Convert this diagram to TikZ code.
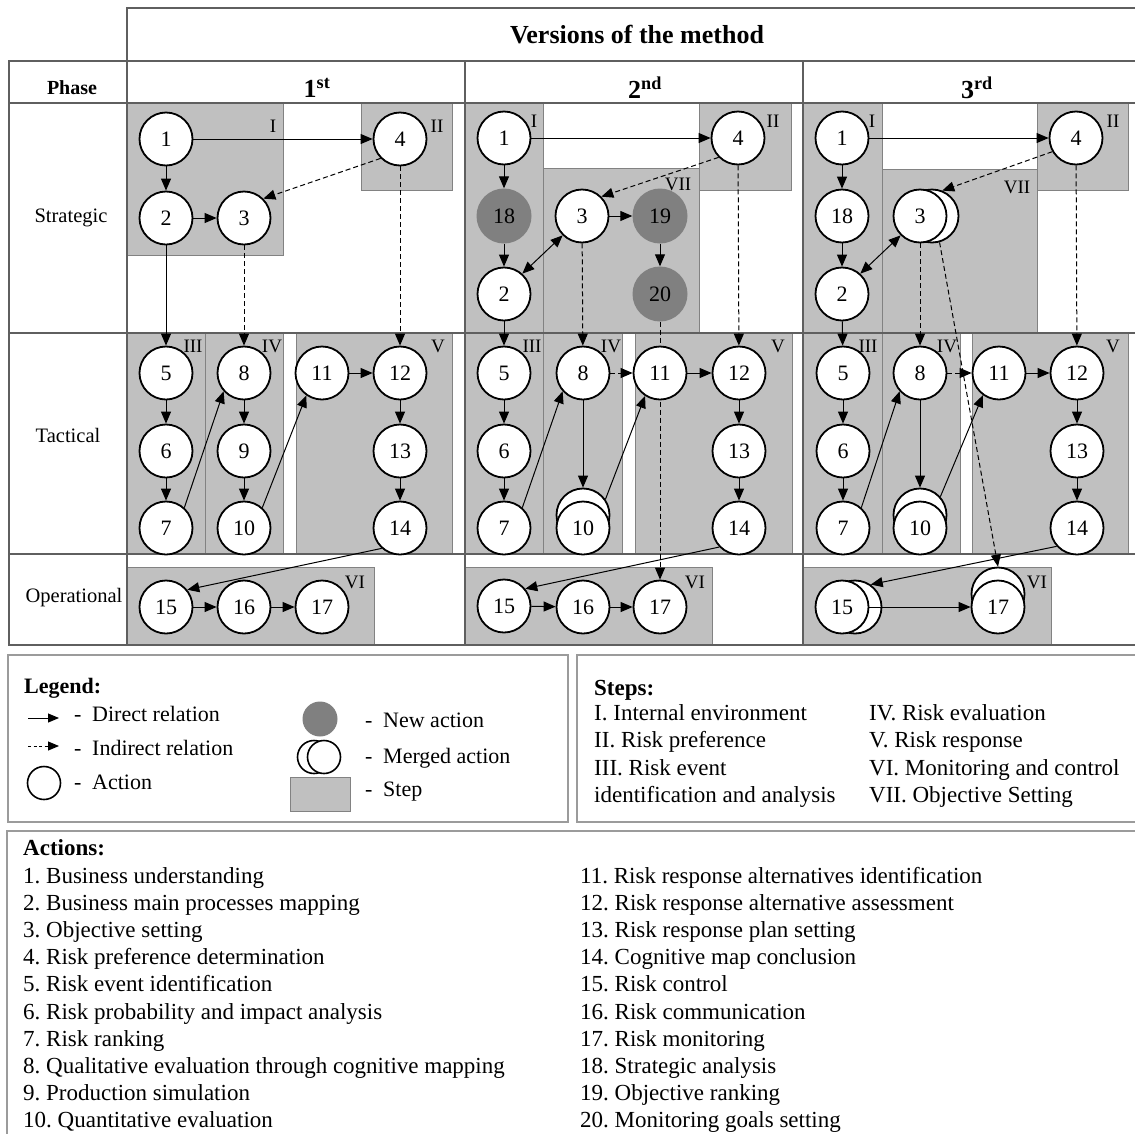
\documentclass[tikz,border=0pt]{standalone}
\usepackage{fontspec}
\setmainfont{Liberation Serif}
\usetikzlibrary{arrows.meta}
\definecolor{stepgray}{RGB}{192,192,192}
\definecolor{stepedge}{RGB}{130,130,130}
\definecolor{newgray}{RGB}{128,128,128}
\definecolor{gridgray}{RGB}{95,95,95}
\definecolor{boxgray}{RGB}{155,155,155}
\pgfdeclarelayer{bg}
\pgfdeclarelayer{edges}
\pgfsetlayers{bg,edges,main}
\newcommand{\numfont}{\fontsize{22}{24}\selectfont}
\newcommand{\txtfont}{\fontsize{23}{27}\selectfont}
\newcommand{\lgfont}{\fontsize{22}{26}\selectfont}
\frenchspacing
\begin{document}
\begin{tikzpicture}[x=1pt,y=-1pt,
  act/.style={circle,draw=black,line width=1.8pt,fill=white,minimum size=53pt,inner sep=0pt,font=\numfont},
  newact/.style={circle,fill=newgray,minimum size=55pt,inner sep=0pt,font=\numfont},
  stepbox/.style={fill=stepgray,draw=stepedge,line width=0.8pt},
  steplbl/.style={inner sep=0pt,font=\fontsize{19}{20}\selectfont},
  arr/.style={-{Triangle[length=12pt,width=10pt]},line width=1pt},
  darr/.style={arr,dash pattern=on 5pt off 3pt},
  dblarr/.style={{Triangle[length=12pt,width=10pt]}-{Triangle[length=12pt,width=10pt]},line width=1pt},
  gridline/.style={draw=gridgray,line width=1.4pt},
  hdr/.style={inner sep=0pt,font=\bfseries\fontsize{26}{28}\selectfont},
  rowlbl/.style={inner sep=0pt,font=\fontsize{20.5}{22}\selectfont},
  txt/.style={inner sep=0pt,anchor=base west,font=\txtfont},
  lgtxt/.style={inner sep=0pt,anchor=base west,font=\lgfont},
  panel/.style={draw=boxgray,line width=1.6pt},
  lgact/.style={circle,draw=black,line width=1.6pt,fill=white,minimum size=33pt,inner sep=0pt}
]
\useasboundingbox (0,0) rectangle (1135,1133);
\begin{pgfonlayer}{bg}
\fill[white] (0,0) rectangle (1135,1133);
% step boxes
\foreach \xa/\ya/\xb/\yb in {127/103/283/255, 361/103/452/190, 127/333/205/554, 205/333/283/554, 296/333/452/554, 127/567/374/645,
  465/103/543/333, 543/168/699/333, 699/103/791/190, 465/333/543/554, 543/333/622/554, 635/333/792/554, 465/567/712/645,
  803/103/882/333, 882/169/1037/333, 1037/103/1128/190, 803/333/882/554, 882/333/960/554, 972/333/1128/554, 803/567/1051/645}
  {\draw[stepbox] (\xa,\ya) rectangle (\xb,\yb);}
% table grid
\draw[gridline] (127,8) rectangle (1145,61);
\draw[gridline] (9,61) rectangle (1145,645);
\foreach \yy in {103,333,554} {\draw[gridline] (9,\yy) -- (1145,\yy);}
\foreach \xx in {127,465,803} {\draw[gridline] (\xx,61) -- (\xx,645);}
% panels
\draw[panel] (8,655) rectangle (568,822);
\draw[panel] (577,655) rectangle (1145,822);
\draw[panel] (7,831) rectangle (1145,1145);
\end{pgfonlayer}

% headers
\node[hdr] (hv) at (637,35) {Versions of the method};
\node[hdr,font=\bfseries\fontsize{20}{22}\selectfont] (hp) at (72,88) {Phase};
\node[hdr] (h1) at (317,88) {1\textsuperscript{st}};
\node[hdr] (h2) at (645,88) {2\textsuperscript{nd}};
\node[hdr] (h3) at (977,88) {3\textsuperscript{rd}};
\node[rowlbl] (rs) at (71,218) {Strategic};
\node[rowlbl] (rt) at (68,435) {Tactical};
\node[rowlbl] (ro) at (74,598) {Operational};

% step labels
\node[steplbl] (s1a) at (273,126) {I};
\node[steplbl] (s1b) at (437,126) {II};
\node[steplbl] (s1c) at (193,346) {III};
\node[steplbl] (s1d) at (272,346) {IV};
\node[steplbl] (s1e) at (438,346) {V};
\node[steplbl] (s1f) at (355,582) {VI};
\node[steplbl] (s2a) at (534,121) {I};
\node[steplbl] (s2b) at (773,121) {II};
\node[steplbl] (s2g) at (678,184) {VII};
\node[steplbl] (s2c) at (532,346) {III};
\node[steplbl] (s2d) at (611,346) {IV};
\node[steplbl] (s2e) at (778,346) {V};
\node[steplbl] (s2f) at (695,582) {VI};
\node[steplbl] (s3a) at (872,121) {I};
\node[steplbl] (s3b) at (1113,121) {II};
\node[steplbl] (s3g) at (1017,187) {VII};
\node[steplbl] (s3c) at (868,346) {III};
\node[steplbl] (s3d) at (947,346) {IV};
\node[steplbl] (s3e) at (1113,346) {V};
\node[steplbl] (s3f) at (1037,582) {VI};

% ---- version 1 nodes
\node[act] (a1) at (166,139) {1};
\node[act] (a2) at (166,218) {2};
\node[act] (a3) at (244,218) {3};
\node[act] (a4) at (400,139) {4};
\node[act] (a5) at (166,373) {5};
\node[act] (a6) at (166,451) {6};
\node[act] (a7) at (166,528) {7};
\node[act] (a8) at (244,373) {8};
\node[act] (a9) at (244,451) {9};
\node[act] (a10) at (244,528) {10};
\node[act] (a11) at (322,373) {11};
\node[act] (a12) at (400,373) {12};
\node[act] (a13) at (400,451) {13};
\node[act] (a14) at (400,528) {14};
\node[act] (a15) at (166,607) {15};
\node[act] (a16) at (244,607) {16};
\node[act] (a17) at (322,607) {17};

% ---- version 2 nodes
\node[act] (b1) at (504,138) {1};
\node[act] (b4) at (738,138) {4};
\node[newact] (b18) at (504,216) {18};
\node[act] (b3) at (582,216) {3};
\node[newact] (b19) at (660,216) {19};
\node[act] (b2) at (504,294) {2};
\node[newact] (b20) at (660,294) {20};
\node[act] (b5) at (504,373) {5};
\node[act] (b6) at (504,451) {6};
\node[act] (b7) at (504,528) {7};
\node[act] (b8) at (583,373) {8};
\node[act] (b10b) at (583,515) {};
\node[act] (b10) at (583,528) {10};
\node[act] (b11) at (660,373) {11};
\node[act] (b12) at (739,373) {12};
\node[act] (b13) at (739,451) {13};
\node[act] (b14) at (739,528) {14};
\node[act] (b15) at (504,606) {15};
\node[act] (b16) at (583,607) {16};
\node[act] (b17) at (660,607) {17};

% ---- version 3 nodes
\node[act] (c1) at (842,138) {1};
\node[act] (c4) at (1076,138) {4};
\node[act] (c18) at (842,216) {18};
\node[act] (c3b) at (932,216) {};
\node[act] (c3) at (920,216) {3};
\node[act] (c2) at (842,294) {2};
\node[act] (c5) at (843,373) {5};
\node[act] (c6) at (843,451) {6};
\node[act] (c7) at (843,528) {7};
\node[act] (c8) at (920,373) {8};
\node[act] (c10b) at (920,515) {};
\node[act] (c10) at (920,528) {10};
\node[act] (c11) at (999,373) {11};
\node[act] (c12) at (1077,373) {12};
\node[act] (c13) at (1077,451) {13};
\node[act] (c14) at (1077,528) {14};
\node[act] (c15b) at (855,607) {};
\node[act] (c15) at (842,607) {15};
\node[act] (c17b) at (998,594) {};
\node[act] (c17) at (998,607) {17};

\begin{pgfonlayer}{edges}
% version 1
\draw[arr] (a1) -- (a4);
\draw[arr] (a1) -- (a2);
\draw[arr] (a2) -- (a3);
\draw[darr] (a4.-135) -- (a3.45);
\draw[arr] (a2) -- (a5);
\draw[darr] (a3) -- (a8);
\draw[darr] (a4) -- (a12);
\draw[arr] (a5) -- (a6);
\draw[arr] (a6) -- (a7);
\draw[arr] (a7.48) -- (a8.222);
\draw[arr] (a8) -- (a9);
\draw[arr] (a9) -- (a10);
\draw[arr] (a10.48) -- (a11.235);
\draw[arr] (a11) -- (a12);
\draw[arr] (a12) -- (a13);
\draw[arr] (a13) -- (a14);
\draw[arr] (a14.228) -- (a15.39);
\draw[arr] (a15) -- (a16);
\draw[arr] (a16) -- (a17);
% version 2
\draw[arr] (b1) -- (b4);
\draw[arr] (b1) -- (b18);
\draw[arr] (b18) -- (b2);
\draw[dblarr] (b2.48) -- (b3.225);
\draw[arr] (b3) -- (b19);
\draw[arr] (b19) -- (b20);
\draw[darr] (b4.-135) -- (b3.45);
\draw[arr] (b2) -- (b5);
\draw[darr] (b3) -- (b8);
\draw[darr] (b4) -- (b12);
\draw[darr] (b20) -- (b17);
\draw[arr] (b5) -- (b6);
\draw[arr] (b6) -- (b7);
\draw[arr] (b7.48) -- (b8.222);
\draw[arr] (b8) -- (b10b);
\draw[darr] (b8) -- (b11);
\draw[arr] (b10b.35) -- (b11.237);
\draw[arr] (b11) -- (b12);
\draw[arr] (b12) -- (b13);
\draw[arr] (b13) -- (b14);
\draw[arr] (b14.224) -- (b15.39);
\draw[arr] (b15) -- (b16);
\draw[arr] (b16) -- (b17);
% version 3
\draw[arr] (c1) -- (c4);
\draw[arr] (c1) -- (c18);
\draw[arr] (c18) -- (c2);
\draw[dblarr] (c2.48) -- (c3.225);
\draw[darr] (c4.210) -- (c3b.68);
\draw[arr] (c2) -- (c5);
\draw[darr] (c3) -- (c8);
\draw[darr] (c3b.-74) -- (c17b.north);
\draw[darr] (c4) -- (c12);
\draw[arr] (c5) -- (c6);
\draw[arr] (c6) -- (c7);
\draw[arr] (c7.48) -- (c8.222);
\draw[arr] (c8) -- (c10b);
\draw[darr] (c8) -- (c11);
\draw[arr] (c10b.42) -- (c11.234);
\draw[arr] (c11) -- (c12);
\draw[arr] (c12) -- (c13);
\draw[arr] (c13) -- (c14);
\draw[arr] (c14.222) -- (c15b.55);
\end{pgfonlayer}
\draw[arr] (c15.east) -- (c17.west);

% ---- legend
\node[lgtxt,font=\bfseries\lgfont] (lgt) at (24,693) {Legend:};
\coordinate (ls1) at (28,718);
\coordinate (le1) at (59,718);
\draw[arr,-{Triangle[length=11pt,width=9pt]}] (ls1) -- (le1);
\node[lgtxt] (ld1) at (74,721) {-};
\node[lgtxt] (lt1) at (92,721) {Direct relation};
\coordinate (ls2) at (28,746);
\coordinate (le2) at (59,746);
\draw[arr,-{Triangle[length=11pt,width=9pt]},dash pattern=on 3pt off 2.5pt] (ls2) -- (le2);
\node[lgtxt] (ld2) at (74,755) {-};
\node[lgtxt] (lt2) at (92,755) {Indirect relation};
\node[lgact] (lc3) at (44,783) {};
\node[lgtxt] (ld3) at (74,789) {-};
\node[lgtxt] (lt3) at (92,789) {Action};
\node[circle,fill=newgray,minimum size=35pt,inner sep=0pt] (lc4) at (320,719) {};
\node[lgtxt] (ld4) at (365,727) {-};
\node[lgtxt] (lt4) at (383,727) {New action};
\node[lgact] (lc5b) at (314,757) {};
\node[lgact] (lc5) at (324,757) {};
\node[lgtxt] (ld5) at (365,763) {-};
\node[lgtxt] (lt5) at (383,763) {Merged action};
\node[stepbox,minimum width=60pt,minimum height=34pt,inner sep=0pt] (lc6) at (320,794) {};
\node[lgtxt] (ld6) at (365,796) {-};
\node[lgtxt] (lt6) at (383,796) {Step};

% ---- steps
\node[txt,font=\bfseries\txtfont] (st0) at (594,695) {Steps:};
\node[txt] (st1) at (594,720) {I. Internal environment};
\node[txt] (st2) at (594,747.5) {II. Risk preference};
\node[txt] (st3) at (594,775) {III. Risk event};
\node[txt] (st3b) at (594,802) {identification and analysis};
\node[txt] (st4) at (869,720) {IV. Risk evaluation};
\node[txt] (st5) at (869,747.5) {V. Risk response};
\node[txt] (st6) at (869,775) {VI. Monitoring and control};
\node[txt] (st7) at (869,802) {VII. Objective Setting};

% ---- actions
\node[txt,font=\bfseries\txtfont] (ac0) at (23,855) {Actions:};
\foreach \i/\t in {1/Business understanding, 2/Business main processes mapping, 3/Objective setting, 4/Risk preference determination, 5/Risk event identification, 6/Risk probability and impact analysis, 7/Risk ranking, 8/Qualitative evaluation through cognitive mapping, 9/Production simulation, 10/Quantitative evaluation}
  {\node[txt] (acl\i) at (23,{883+27.2*(\i-1)}) {\i. \t};}
\foreach \i/\t in {11/Risk response alternatives identification, 12/Risk response alternative assessment, 13/Risk response plan setting, 14/Cognitive map conclusion, 15/Risk control, 16/Risk communication, 17/Risk monitoring, 18/Strategic analysis, 19/Objective ranking, 20/Monitoring goals setting}
  {\node[txt] (acr\i) at (580,{883+27.2*(\i-11)}) {\i. \t};}
\end{tikzpicture}
\end{document}
